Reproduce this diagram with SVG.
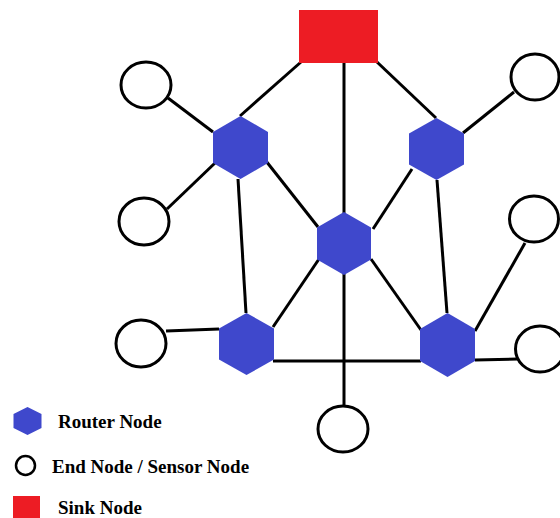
<svg xmlns="http://www.w3.org/2000/svg" width="560" height="518" viewBox="0 0 560 518">
<style>
.edge{stroke:#000;stroke-width:3;fill:none;stroke-linecap:butt}
.end{fill:#fff;stroke:#000;stroke-width:3}
.router{fill:#3F48CC}
.sink{fill:#ED1C24}
.lbl{font-family:"Liberation Serif","Times New Roman",serif;font-weight:bold;font-size:19px;fill:#000}
</style>
<rect width="560" height="518" fill="#fff"/>
<g id="connectors">
<line class="edge" x1="301" y1="62" x2="240" y2="116"/>
<line class="edge" x1="344" y1="63" x2="344" y2="405"/>
<line class="edge" x1="377" y1="62" x2="436" y2="118"/>
<line class="edge" x1="168" y1="98" x2="213" y2="132"/>
<line class="edge" x1="215" y1="163" x2="167" y2="209"/>
<line class="edge" x1="238" y1="179" x2="246" y2="313"/>
<line class="edge" x1="266" y1="161" x2="318" y2="227"/>
<line class="edge" x1="412" y1="169" x2="373" y2="229"/>
<line class="edge" x1="437" y1="180" x2="447" y2="313"/>
<line class="edge" x1="463" y1="133" x2="514" y2="92"/>
<line class="edge" x1="319" y1="259" x2="273" y2="327"/>
<line class="edge" x1="371" y1="259" x2="421" y2="330"/>
<line class="edge" x1="273" y1="361" x2="421" y2="361"/>
<line class="edge" x1="166" y1="331" x2="219" y2="329"/>
<line class="edge" x1="475" y1="360" x2="518" y2="359"/>
<line class="edge" x1="475" y1="331" x2="525" y2="243"/>
</g>
<g id="sink"><rect class="sink" x="299" y="10" width="79" height="53"/></g>
<g id="router-tl"><polygon class="router" points="240.5,116 268,132 268,163 240.5,179 213,163 213,132"/></g>
<g id="router-tr"><polygon class="router" points="436.5,118 464,133.5 464,164.5 436.5,180 409,164.5 409,133.5"/></g>
<g id="router-c"><polygon class="router" points="344,212 371,227.5 371,259.5 344,275 317,259.5 317,227.5"/></g>
<g id="router-bl"><polygon class="router" points="246.5,313 274,328.5 274,359.5 246.5,375 219,359.5 219,328.5"/></g>
<g id="router-br"><polygon class="router" points="447.5,313 475,329 475,361 447.5,377 420,361 420,329"/></g>
<g id="end-tl"><ellipse class="end" cx="146" cy="85" rx="25" ry="23"/></g>
<g id="end-tr"><ellipse class="end" cx="535" cy="77" rx="24" ry="23"/></g>
<g id="end-ml"><ellipse class="end" cx="144" cy="221.5" rx="25" ry="23.5"/></g>
<g id="end-mr"><ellipse class="end" cx="534" cy="219" rx="24.5" ry="23"/></g>
<g id="end-ll"><ellipse class="end" cx="141" cy="343.5" rx="25" ry="23.5"/></g>
<g id="end-lr"><ellipse class="end" cx="540" cy="349" rx="24.5" ry="23"/></g>
<g id="end-b"><ellipse class="end" cx="343" cy="429" rx="25" ry="23"/></g>
<g id="legend">
<polygon class="router" points="27.5,407 41.5,414 41.5,428 27.5,435 13.5,428 13.5,414"/>
<text class="lbl" x="58" y="428">Router Node</text>
<circle cx="25.5" cy="465.5" r="9.5" fill="#fff" stroke="#000" stroke-width="2.5"/>
<text class="lbl" x="52" y="472.5">End Node / Sensor Node</text>
<rect class="sink" x="13" y="496" width="27" height="22"/>
<text class="lbl" x="58" y="514">Sink Node</text>
</g>
</svg>
